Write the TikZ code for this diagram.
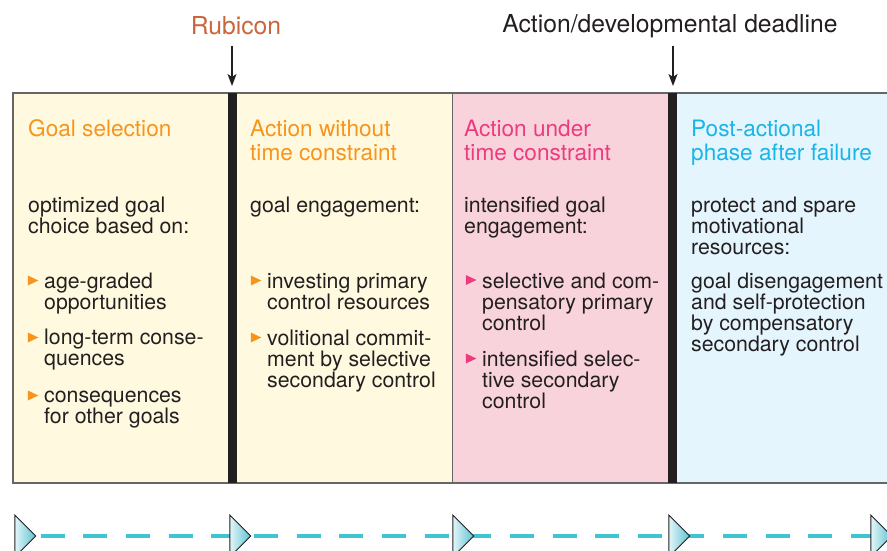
\documentclass[tikz,border=0pt]{standalone}
\usepackage{fontspec}
\setmainfont{TeX Gyre Heros}
\usetikzlibrary{shapes.geometric,arrows.meta,backgrounds}
\definecolor{cream}{HTML}{FFFADF}
\definecolor{pinkbg}{HTML}{F9D3DC}
\definecolor{bluebg}{HTML}{E5F5FD}
\definecolor{orangehd}{HTML}{F7941D}
\definecolor{pinkhd}{HTML}{EC3B7E}
\definecolor{bluehd}{HTML}{17B5E8}
\definecolor{rubcol}{HTML}{C9673A}
\definecolor{txt}{HTML}{231F20}
\definecolor{dashcol}{HTML}{40C4D2}
\definecolor{tridark}{HTML}{5CC2D2}
\definecolor{trilight}{HTML}{E4F5F8}
\tikzset{
  head/.style={anchor=base west,inner sep=0pt,font=\fontsize{22.6}{24}\selectfont,align=left},
  body/.style={anchor=base west,inner sep=0pt,font=\fontsize{21.3}{20.9}\selectfont,text=txt,align=left},
  toplabel/.style={inner sep=0pt,font=\fontsize{24.7}{26}\selectfont},
  bul/.style={isosceles triangle,isosceles triangle stretches,inner sep=0pt,minimum height=10.5pt,minimum width=10pt,anchor=center},
  tri/.style={isosceles triangle,isosceles triangle stretches,inner sep=0pt,minimum height=21pt,minimum width=42pt,draw=txt,line width=0.9pt,left color=trilight,right color=tridark,shading angle=90},
  bar/.style={fill=txt,draw=none},
  marker/.style={-{Stealth[length=12pt,width=9pt,inset=3pt]},line width=1.4pt,draw=txt},
}
\begin{document}
\begin{tikzpicture}[x=1pt,y=-1pt]
\useasboundingbox (0,0) rectangle (887,551);
\clip (0,0) rectangle (887,551);
% columns
\fill[cream] (13,93) rectangle (452,483);
\fill[pinkbg] (452,93) rectangle (672,483);
\fill[bluebg] (672,93) rectangle (890,483);
\draw[gray!80!black,line width=1.3pt] (890,93) -- (13,93) -- (13,483) -- (890,483);
\draw[gray!80!black,line width=1pt] (452,93) -- (452,483);
\fill[bar] (227.5,93) rectangle (236.5,483);
\fill[bar] (668,93) rectangle (677,483);
% top labels
\node[toplabel,text=rubcol] (rub) at (236,26) {Rubicon};
\node[toplabel,text=txt] (dead) at (670,26) {Action/developmental deadline};
\coordinate (rubtop) at (232,46);
\coordinate (rubbot) at (232,86);
\coordinate (deadtop) at (673,46);
\coordinate (deadbot) at (673,86);
\draw[marker] (rubtop) -- (rubbot);
\draw[marker] (deadtop) -- (deadbot);
% column 1 (node y = baseline of last line)
\node[head,text=orangehd] (h1) at (28,136) {Goal selection};
\node[body] (b1) at (28,233.4) {optimized goal\\choice based on:};
\node[bul,fill=orangehd] (k1a) at (31,280.5) {};
\node[body] (t1a) at (44,309) {age-graded\\opportunities};
\node[bul,fill=orangehd] (k1b) at (31,337.5) {};
\node[body] (t1b) at (44,365) {long-term conse-\\quences};
\node[bul,fill=orangehd] (k1c) at (31,395.5) {};
\node[body] (t1c) at (44,423.4) {consequences\\for other goals};
% column 2
\node[head,text=orangehd] (h2) at (250,160) {Action without\\time constraint};
\node[body] (b2) at (250,212.5) {goal engagement:};
\node[bul,fill=orangehd] (k2a) at (254,280.5) {};
\node[body] (t2a) at (267,309) {investing primary\\control resources};
\node[bul,fill=orangehd] (k2b) at (254,337.5) {};
\node[body] (t2b) at (267,387.3) {volitional commit-\\ment by selective\\secondary control};
% column 3
\node[head,text=pinkhd] (h3) at (464,160) {Action under\\time constraint};
\node[body] (b3) at (464,233.4) {intensified goal\\engagement:};
\node[bul,fill=pinkhd] (k3a) at (469,280) {};
\node[body] (t3a) at (482,330.3) {selective and com-\\pensatory primary\\control};
\node[bul,fill=pinkhd] (k3b) at (469,358.5) {};
\node[body] (t3b) at (482,408.3) {intensified selec-\\tive secondary\\control};
% column 4
\node[head,text=bluehd] (h4) at (691,160) {Post-actional\\phase after failure};
\node[body] (b4) at (691,254.3) {protect and spare\\motivational\\resources:};
\node[body] (t4) at (691,351.2) {goal disengagement\\and self-protection\\by compensatory\\secondary control};
% timeline
\node[tri] (p1) at (23.5,536) {};
\node[tri] (p2) at (238.5,536) {};
\node[tri] (p3) at (461.5,536) {};
\node[tri] (p4) at (677.5,536) {};
\node[tri] (p5) at (879.5,536) {};
\begin{scope}[on background layer]
\draw[dashcol,line width=4.5pt,dash pattern=on 24pt off 18.65pt,dash phase=25.45pt] (p1.center) -- (p5.center);
\end{scope}
\end{tikzpicture}
\end{document}
